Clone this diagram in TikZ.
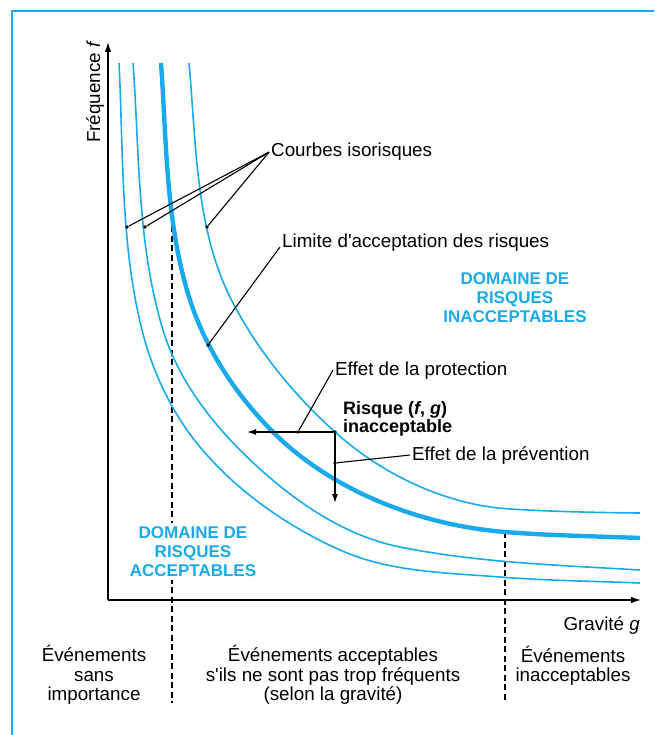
\documentclass[tikz,border=0pt]{standalone}
\usepackage{fontspec}
\setmainfont{Liberation Sans}[Ligatures=TeXOff]
\usetikzlibrary{arrows.meta}
\definecolor{riskblue}{RGB}{25,170,235}
\begin{document}
\begin{tikzpicture}[x=1pt,y=-1pt,
  iso/.style={riskblue, line width=1.6pt},
  limit/.style={riskblue, line width=4.4pt},
  axis/.style={line width=1.3pt, -{Latex[length=10pt,width=6.5pt]}},
  leader/.style={line width=1.1pt},
  effect/.style={line width=1.2pt, -{Latex[length=9pt,width=6pt]}},
  sep/.style={line width=1.1pt, dash pattern=on 6pt off 3.5pt},
  txt/.style={font=\fontsize{18.8}{19.5}\selectfont, inner sep=0pt},
  zone/.style={font=\fontsize{17}{19}\selectfont\bfseries, text=riskblue, align=center, inner sep=0pt},
  dot/.style={circle, fill, inner sep=0pt, minimum size=3.6pt}]
\useasboundingbox (0,0) rectangle (654,735);
% frame
\draw[riskblue, line width=2pt] (12,735) -- (12,11) -- (654,11);
% axes
\coordinate (O) at (108,600);
\coordinate (ytip) at (108,42);
\coordinate (xtip) at (641,600);
\draw[axis] (O) -- (ytip);
\draw[axis] (O) -- (xtip);
\node[txt, rotate=90, anchor=base] (freq) at (100,92) {Fréquence \textit{f}};
\node[txt, anchor=base east] (grav) at (640,630) {Gravité \textit{g}};
% separators
\coordinate (s1t) at (172,226);
\coordinate (s1b) at (172,703);
\coordinate (s2t) at (505,532);
\coordinate (s2b) at (505,703);
\draw[sep] (s1t) -- (s1b);
\draw[sep] (s2t) -- (s2b);
% iso-risk curves
\draw[iso] (119,63) .. controls (123.5,152.2) and (120.3,243.4) .. (142,330)
  .. controls (152.5,372.2) and (172.2,413.6) .. (200,447)
  .. controls (237.1,491.5) and (287.2,526.3) .. (340,550)
  .. controls (389.3,572.2) and (446.1,572.7) .. (500,577)
  .. controls (546.6,580.7) and (593.3,581.1) .. (640,583);
\draw[iso] (133,63) .. controls (139.5,152.3) and (137,244.3) .. (163,330)
  .. controls (176.8,375.5) and (206.4,416.4) .. (240,450)
  .. controls (284.1,494.1) and (338.8,534.8) .. (400,547)
  .. controls (478.8,562.8) and (559.7,565.2) .. (640,570);
\draw[limit] (161,63) .. controls (166.7,142.4) and (165.6,224.2) .. (190,300)
  .. controls (206,349.5) and (236.2,395.2) .. (273,432)
  .. controls (332.5,491.5) and (421.1,525.3) .. (505,532)
  .. controls (549.9,535.6) and (595,536.2) .. (640,538);
\draw[iso] (189,63) .. controls (196.4,144) and (195.1,231.1) .. (233,303)
  .. controls (258.5,351.5) and (294.3,395.3) .. (335,432)
  .. controls (382.3,474.6) and (446.4,505.2) .. (510,509)
  .. controls (553.3,511.6) and (596.6,512.6) .. (640,513);
% zone labels
\node[zone] (inacc) at (515,298) {DOMAINE DE\\RISQUES\\INACCEPTABLES};
\node[zone, fill=white, inner sep=3pt] (acc) at (193,551.5) {DOMAINE DE\\RISQUES\\ACCEPTABLES};
% Courbes isorisques
\node[txt, anchor=base west] (cour) at (271,157) {Courbes isorisques};
\node[dot] (l1) at (127,227) {};
\node[dot] (l2) at (145,227) {};
\node[dot] (l3) at (207,227) {};
\coordinate (cj) at ([xshift=-2pt]cour.west);
\draw[leader] (cj) -- (l1);
\draw[leader] (cj) -- (l2);
\draw[leader] (cj) -- (l3);
% Limite
\node[txt, anchor=base west] (lim) at (282,247) {Limite d'acceptation des risques};
\node[dot] (l4) at (208,345) {};
\draw[leader] ([xshift=-2pt]lim.base west) -- (l4);
% risk point and effects
\node[txt, font=\fontsize{18}{17.5}\selectfont\bfseries, align=left, anchor=west] (risk) at (343,419) {Risque (\textit{f}, \textit{g})\\inacceptable};
\node[dot] (R) at (335,432) {};
\coordinate (tipL) at (247,432);
\coordinate (tipD) at (335,503);
\draw[effect] (R.center) -- (tipL);
\draw[effect] (R.center) -- (tipD);
\node[txt, anchor=base west] (prot) at (335,375) {Effet de la protection};
\node[dot] (pd) at (298,432) {};
\draw[leader] ([xshift=-2pt]prot.west) -- (pd);
\node[txt, anchor=base west] (prev) at (412,460) {Effet de la prévention};
\node[dot] (vd) at (335,463) {};
\draw[leader] ([xshift=-2pt]prev.west) -- (vd);
% bottom labels
\node[txt, align=center] (ev1) at (94,675) {Événements\\sans\\importance};
\node[txt, align=center] (ev2) at (333,675) {Événements acceptables\\s'ils ne sont pas trop fréquents\\(selon la gravité)};
\node[txt, align=center] (ev3) at (573,666) {Événements\\inacceptables};
\end{tikzpicture}
\end{document}
